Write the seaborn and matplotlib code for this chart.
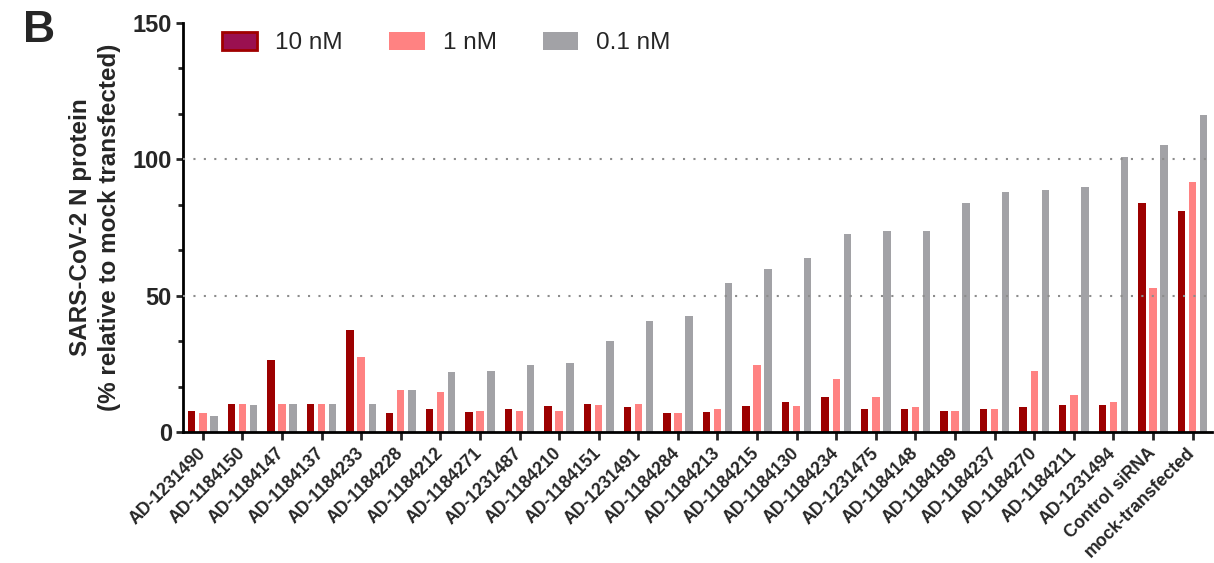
import numpy as np
import pandas as pd
import matplotlib
matplotlib.use("Agg")
import matplotlib.pyplot as plt
from matplotlib.patches import Patch
from matplotlib.ticker import MultipleLocator, FixedLocator
import seaborn as sns

sns.set_style("ticks")
plt.rcParams["font.family"] = ["Liberation Sans", "DejaVu Sans"]

# siRNA candidates, ordered by knock-down at 0.1 nM
labels = ["AD-1231490", "AD-1184150", "AD-1184147", "AD-1184137", "AD-1184233",
          "AD-1184228", "AD-1184212", "AD-1184271", "AD-1231487", "AD-1184210",
          "AD-1184151", "AD-1231491", "AD-1184284", "AD-1184213", "AD-1184215",
          "AD-1184130", "AD-1184234", "AD-1231475", "AD-1184148", "AD-1184189",
          "AD-1184237", "AD-1184270", "AD-1184211", "AD-1231494", "Control siRNA",
          "mock-transfected"]

# N protein level, % of mock-transfected
nm10 = [7.7, 10.3, 26.5, 10.3, 37.3, 7.1, 8.5, 7.2, 8.5, 9.6, 10.3, 9.1, 7.1,
        7.2, 9.6, 10.9, 12.9, 8.3, 8.3, 7.6, 8.3, 9.1, 9.8, 9.8, 84.1, 80.9]
nm1 = [7.1, 10.3, 10.3, 10.3, 27.6, 15.4, 14.8, 7.7, 7.7, 7.7, 9.8, 10.3, 7.1,
       8.6, 24.4, 9.6, 19.4, 13.0, 9.2, 7.6, 8.3, 22.4, 13.6, 10.9, 52.6, 91.8]
nm01 = [5.9, 9.8, 10.3, 10.3, 10.3, 15.4, 21.9, 22.5, 24.6, 25.2, 33.5, 40.6, 42.4,
        54.7, 59.8, 63.6, 72.5, 73.8, 73.8, 84.1, 87.9, 88.7, 89.8, 100.7, 105.3, 116.3]

doses = ["10 nM", "1 nM", "0.1 nM"]
colors = ["#9c0000", "#ff8282", "#a2a2a6"]

df = pd.DataFrame({
    "sirna": labels * 3,
    "dose": [d for d in doses for _ in labels],
    "value": nm10 + nm1 + nm01,
})

W, H = 1214, 563
fig = plt.figure(figsize=(W / 100, H / 100), dpi=100)
ax = fig.add_axes([183 / W, 1 - 432 / H, (1212 - 183) / W, (432 - 22.7) / H])

sns.barplot(data=df, x="sirna", y="value", hue="dose", order=labels,
            hue_order=doses, palette=colors, saturation=1, width=0.84, gap=0.33,
            errorbar=None, legend=False, ax=ax, linewidth=0, zorder=2)

ax.set_xlim(-0.5, 25.49)
ax.set_ylim(0, 150)

# dotted reference lines
for yv in (50, 100):
    ax.axhline(yv, color="#8c8c8c", lw=1.5, ls=(0, (1, 4)), zorder=5)

for s in ("top", "right"):
    ax.spines[s].set_visible(False)
for s in ("left", "bottom"):
    ax.spines[s].set_linewidth(2.0)
    ax.spines[s].set_color("black")

ax.yaxis.set_major_locator(FixedLocator([0, 50, 100, 150]))
ax.yaxis.set_minor_locator(MultipleLocator(50 / 3))
ax.tick_params(axis="y", which="major", length=5, width=2.0, labelsize=17, pad=3)
ax.tick_params(axis="y", which="minor", length=3.5, width=2.0)
ax.tick_params(axis="x", which="major", length=5.5, width=2.0, pad=8)
for t in ax.get_yticklabels():
    t.set_fontweight("bold")

ax.set_xticks(range(len(labels)))
ax.set_xticklabels(labels, rotation=45, ha="right", va="center",
                   rotation_mode="anchor", fontsize=12.7, fontweight="bold")
ax.set_xlabel("")

ax.set_ylabel("SARS-CoV-2 N protein\n(% relative to mock transfected)",
              fontsize=17.5, fontweight="bold", linespacing=1.3)
ax.yaxis.label.set(ha="center", va="center")
ax.yaxis.set_label_coords((95 - 183) / (1212 - 183), 0.5)

handles = [
    Patch(facecolor="#9a1050", edgecolor="#a00000", linewidth=2.0),
    Patch(facecolor=colors[1], edgecolor="none"),
    Patch(facecolor=colors[2], edgecolor="none"),
]
fig.legend(handles, doses, loc="center left", bbox_to_anchor=(222 / W, 1 - 43 / H),
           ncol=3, frameon=False, fontsize=17.5, borderpad=0, borderaxespad=0,
           handlelength=1.45, handleheight=0.8, handletextpad=0.75,
           columnspacing=1.9)

fig.text(23 / W, 1 - 42 / H, "B", fontsize=32, fontweight="bold",
         ha="left", va="baseline")

fig.savefig("out.png", dpi=100)
